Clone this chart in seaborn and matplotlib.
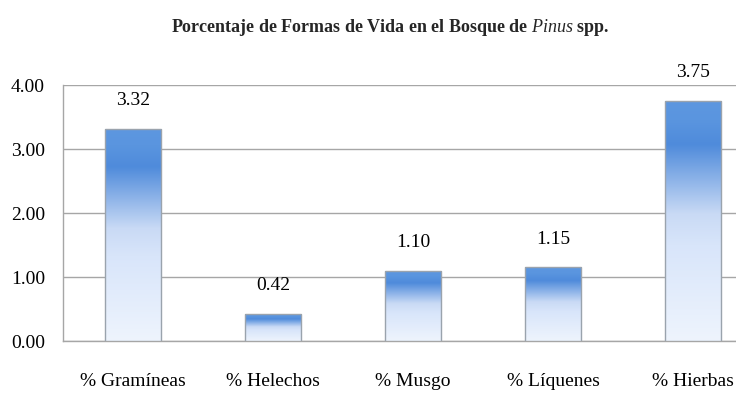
import numpy as np
import pandas as pd
import matplotlib
matplotlib.use("Agg")
import matplotlib.pyplot as plt
import seaborn as sns
from matplotlib.colors import LinearSegmentedColormap

# Datos del gráfico
categorias = ["% Gramíneas", "% Helechos", "% Musgo", "% Líquenes", "% Hierbas"]
valores = [3.32, 0.42, 1.10, 1.15, 3.75]
ticks_y = [0.0, 1.0, 2.0, 3.0, 4.0]

sns.set_theme(style="white")
plt.rcParams["font.family"] = ["Liberation Serif", "DejaVu Serif"]
plt.rcParams["mathtext.fontset"] = "custom"
plt.rcParams["mathtext.rm"] = "Liberation Serif:bold"
plt.rcParams["mathtext.it"] = "Liberation Serif:italic"

df = pd.DataFrame({"forma": categorias, "valor": valores})

fig = plt.figure(figsize=(7.36, 4.02), dpi=100)
ax = fig.add_axes([63 / 736, 60 / 402, 1 - 63 / 736, 256 / 402])

sns.barplot(data=df, x="forma", y="valor", color="white", width=0.4,
            edgecolor="#9aa3ad", linewidth=1.0, ax=ax, zorder=3)

# degradado azul -> blanco dentro de cada barra
grad = LinearSegmentedColormap.from_list(
    "azul", [(0.0, "#eef4fd"), (0.40, "#d8e5fa"), (0.53, "#c9daf5"),
             (0.82, "#4f8bdb"), (0.92, "#5a95df"), (1.0, "#5d97e0")])
g = np.linspace(0, 1, 256).reshape(-1, 1)
for p in ax.patches:
    x0, y0 = p.get_x(), p.get_y()
    w, h = p.get_width(), p.get_height()
    im = ax.imshow(g, cmap=grad, origin="lower", aspect="auto",
                   extent=(x0, x0 + w, y0, y0 + h), zorder=3.5)
    im.set_clip_path(p)
    p.set_facecolor("none")
    p.set_zorder(4)

for i, v in enumerate(valores):
    ax.annotate(f"{v:.2f}", xy=(i, v), xytext=(0, 21), textcoords="offset points",
                ha="center", va="center", fontsize=14, color="black",
                annotation_clip=False)

ax.set_xlim(-0.5, 4.307)
ax.set_ylim(0, 4)
ax.set_yticks(ticks_y)
ax.set_yticklabels([f"{t:.2f}" for t in ticks_y])
ax.yaxis.grid(True, color="#a6a6a6", linewidth=1.0, zorder=0)
ax.set_axisbelow(True)
ax.set_xlabel("")
ax.set_ylabel("")
ax.tick_params(axis="x", length=0, pad=22, labelsize=14, colors="black")
ax.tick_params(axis="y", length=0, pad=13, labelsize=14, colors="black")
for s in ["top", "right"]:
    ax.spines[s].set_visible(False)
for s in ["left", "bottom"]:
    ax.spines[s].set_color("#a6a6a6")
    ax.spines[s].set_linewidth(1.0)

fig.text(390 / 736, 1 - 32 / 402,
         r"Porcentaje de Formas de Vida en el Bosque de $\mathit{Pinus}$ spp.",
         ha="center", va="baseline", fontsize=13, fontweight="bold")

fig.savefig("out.png", dpi=100)
